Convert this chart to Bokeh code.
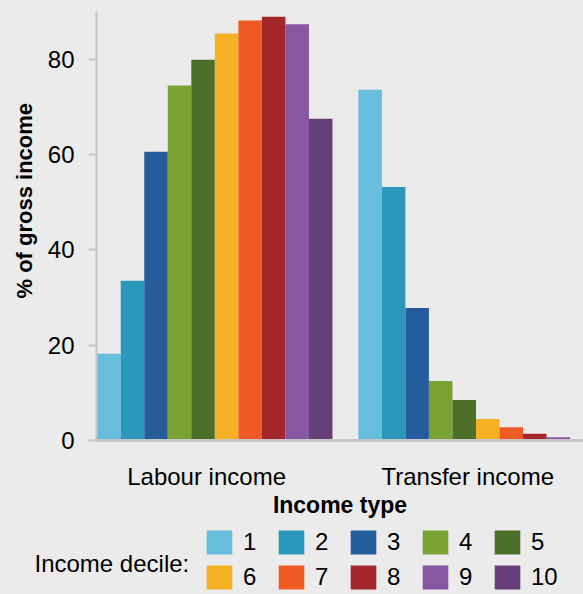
from bokeh.plotting import figure
from bokeh.layouts import column
from bokeh.models import Range1d, FixedTicker, Legend, LegendItem, Label, Title
from bokeh.embed import file_html
from bokeh.resources import INLINE

# ---- data ----
income_types = ["Labour income", "Transfer income"]
deciles = ["1", "2", "3", "4", "5", "6", "7", "8", "9", "10"]
labour = [18.2, 33.5, 60.6, 74.5, 79.9, 85.4, 88.1, 88.9, 87.3, 67.5]
transfer = [73.6, 53.2, 27.8, 12.5, 8.5, 4.5, 2.8, 1.4, 0.7, 0.3]
y_ticks = [0, 20, 40, 60, 80]

# ---- style ----
colors = ["#67bddc", "#2b97bb", "#255c9b", "#7aa232", "#4b6f29",
          "#f4b124", "#f15a25", "#a3262a", "#8956a1", "#663e79"]
BG = "#ebebeb"
AX = "#c6c6c6"
FONT = "Liberation Sans"
GROUP_GAP = 1.1          # gap between groups, in bar widths
group_start = [0.0, len(deciles) + GROUP_GAP]

# ---------------- main chart ----------------
p = figure(width=583, height=520, output_backend="svg", toolbar_location=None,
           x_range=Range1d(-0.03, 20.67), y_range=Range1d(0, 90),
           min_border_left=96, min_border_top=11, min_border_right=0,
           min_border_bottom=80, frame_align=False)
p.background_fill_color = BG
p.border_fill_color = BG
p.outline_line_color = None
p.xgrid.visible = False
p.ygrid.visible = False

def bar_x(d):
    return [group_start[g] + d + 0.5 for g in range(len(income_types))]

for d, lab in enumerate(deciles):
    p.vbar(x=bar_x(d), top=[labour[d], transfer[d]], width=1.0,
           fill_color=colors[d], line_color=None)

# y axis
ya = p.yaxis[0]
ya.ticker = FixedTicker(ticks=y_ticks)
ya.major_label_text_font = FONT
ya.major_label_text_font_size = "24px"
ya.major_label_text_color = "#000000"
ya.major_label_standoff = 14
ya.axis_line_color = AX
ya.axis_line_width = 2
ya.major_tick_line_color = AX
ya.major_tick_line_width = 2
ya.major_tick_out = 8
ya.major_tick_in = 0
ya.minor_tick_line_color = None

p.add_layout(Title(text="% of gross income", align="left", offset=142,
                   standoff=16, text_font=FONT, text_font_size="22px",
                   text_font_style="bold", text_color="#000000"), "left")

# x axis
tick_pos = [g + len(deciles) / 2 - 0.35 for g in group_start]
xa = p.xaxis[0]
xa.ticker = FixedTicker(ticks=tick_pos)
xa.major_label_overrides = {t: name for t, name in zip(tick_pos, income_types)}
xa.axis_label = "Income type"
xa.axis_label_text_font = FONT
xa.axis_label_text_font_style = "bold"
xa.axis_label_text_font_size = "23px"
xa.axis_label_text_color = "#000000"
xa.axis_label_standoff = -1
xa.major_label_text_font = FONT
xa.major_label_text_font_size = "24px"
xa.major_label_text_color = "#000000"
xa.major_label_standoff = 22
xa.axis_line_color = AX
xa.axis_line_width = 3
xa.major_tick_line_color = None
xa.minor_tick_line_color = None
xa.major_tick_out = 0
xa.major_tick_in = 0

# ---------------- legend strip ----------------
p2 = figure(width=583, height=74, output_backend="svg", toolbar_location=None,
            x_range=Range1d(0, 1), y_range=Range1d(0, 1),
            x_axis_type=None, y_axis_type=None, min_border=0, frame_align=False)
p2.background_fill_color = BG
p2.border_fill_color = BG
p2.outline_line_color = None

items = []
for d, lab in enumerate(deciles):
    r = p2.vbar(x=bar_x(d), top=[labour[d], transfer[d]], width=1.0,
                fill_color=colors[d], line_color=None, visible=False)
    items.append(LegendItem(label=lab, renderers=[r]))

legend = Legend(items=items, location=(203, 2), orientation="horizontal", ncols=5,
                glyph_width=32, glyph_height=30, label_height=30, label_width=27,
                label_standoff=8, spacing=5, padding=0, margin=0,
                border_line_color=None, background_fill_alpha=0,
                click_policy="none",
                label_text_font=FONT, label_text_font_size="24px",
                label_text_color="#000000")
p2.add_layout(legend)

p2.add_layout(Label(x=34, y=31, x_units="screen", y_units="screen",
                    text="Income decile:", text_font=FONT, text_font_size="24px",
                    text_color="#000000", text_baseline="alphabetic"))

layout = column(p, p2, spacing=0)

html = file_html(layout, INLINE)
html = html.replace("<head>", "<head><style>html,body{background:#ebebeb;}</style>", 1)
open("out.html", "w").write(html)
